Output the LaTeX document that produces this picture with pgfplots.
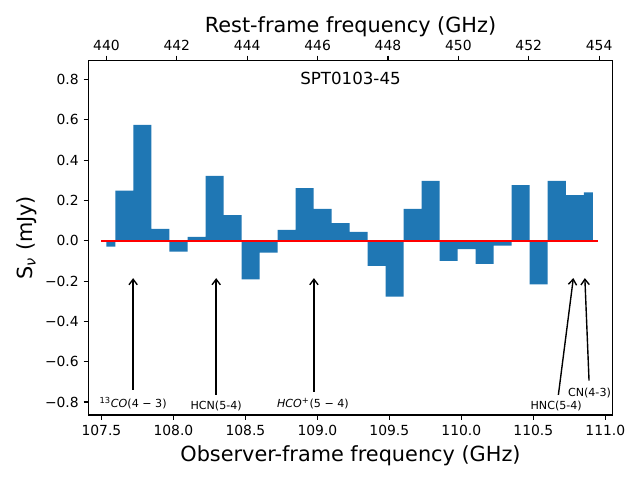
\documentclass[border=0pt]{standalone}
\usepackage{fontspec}
\setmainfont{DejaVu Sans}
\usepackage{pgfplots}
\pgfplotsset{compat=1.18}
\usetikzlibrary{arrows.meta}
\definecolor{c0}{HTML}{1F77B4}
\begin{document}
\begin{tikzpicture}
\path[use as bounding box] (0,0) rectangle (460.8pt,345.6pt);
% top axis: rest-frame frequency
\begin{axis}[
  at={(63.72pt,46.8pt)}, anchor=south west,
  scale only axis, width=377.28pt, height=255.24pt,
  xmin=439.49, xmax=454.38, ymin=0, ymax=1,
  axis x line*=top, axis y line=none,
  xtick={440,442,444,446,448,450,452,454},
  tick align=outside, major tick length=3.5pt,
  axis line style={line width=0.8pt, -},
  tick style={line width=0.8pt, black},
  ticklabel style={font=\fontsize{10}{12}\selectfont},
  /pgf/number format/assume math mode=true,
  xlabel={Rest-frame frequency (GHz)},
  xlabel style={font=\fontsize{15}{18}\selectfont, at={(axis description cs:0.5,1.096)}, anchor=center},
]
\end{axis}
\begin{axis}[
  at={(63.72pt,46.8pt)}, anchor=south west,
  scale only axis, width=377.28pt, height=255.24pt,
  xmin=107.41, xmax=111.05, ymin=-0.8645, ymax=0.895,
  xtick={107.5,108,108.5,109,109.5,110,110.5,111},
  xticklabels={107.5,108.0,108.5,109.0,109.5,110.0,110.5,111.0},
  ytick={-0.8,-0.6,-0.4,-0.2,0,0.2,0.4,0.6,0.8},
  yticklabels={−0.8,−0.6,−0.4,−0.2,0.0,0.2,0.4,0.6,0.8},
  xtick pos=left, ytick pos=left,
  tick align=outside, major tick length=3.5pt,
  axis line style={line width=0.8pt},
  tick style={line width=0.8pt, black},
  ticklabel style={font=\fontsize{10}{12}\selectfont},
  xlabel={Observer-frame frequency (GHz)},
  xlabel style={font=\fontsize{15}{18}\selectfont, at={(axis description cs:0.5,-0.116)}, anchor=center},
  ylabel={S\textsubscript{\textit{ν}} (mJy)},
  ylabel style={font=\fontsize{15}{18}\selectfont, at={(axis description cs:-0.1174,0.5)}, anchor=center},
  clip=true,
]
\addplot[fill=c0, draw=none, const plot mark mid] coordinates {
(107.535,-0.029) (107.660,0.249) (107.785,0.575) (107.910,0.059)
(108.035,-0.054) (108.161,0.020) (108.286,0.322) (108.411,0.128)
(108.536,-0.191) (108.661,-0.059) (108.786,0.054) (108.911,0.262)
(109.036,0.158) (109.161,0.088) (109.286,0.044) (109.412,-0.124)
(109.537,-0.277) (109.662,0.158) (109.787,0.297) (109.912,-0.099)
(110.037,-0.041) (110.162,-0.114) (110.287,-0.024) (110.412,0.277)
(110.537,-0.216) (110.663,0.297) (110.788,0.227) (110.913,0.241)
} \closedcycle;
\addplot[red, line width=1.5pt] coordinates {(107.5,0) (110.95,0)};
\draw[line width=1pt, -{Straight Barb[length=4pt,width=6pt]}] (axis cs:107.720,-0.740) -- (axis cs:107.720,-0.185);
\draw[line width=1pt, -{Straight Barb[length=4pt,width=6pt]}] (axis cs:108.297,-0.765) -- (axis cs:108.297,-0.185);
\draw[line width=1pt, -{Straight Barb[length=4pt,width=6pt]}] (axis cs:108.976,-0.749) -- (axis cs:108.976,-0.185);
\draw[line width=1pt, -{Straight Barb[length=4pt,width=6pt]}] (axis cs:110.674,-0.765) -- (axis cs:110.778,-0.185);
\draw[line width=1pt, -{Straight Barb[length=4pt,width=6pt]}] (axis cs:110.887,-0.694) -- (axis cs:110.858,-0.185);
\node[font=\fontsize{8}{9.6}\selectfont, inner sep=0pt] at (axis cs:107.72,-0.805) {\textsuperscript{13}\textit{CO}(4 − 3)};
\node[font=\fontsize{8}{9.6}\selectfont, inner sep=0pt] at (axis cs:108.297,-0.818) {HCN(5-4)};
\node[font=\fontsize{8}{9.6}\selectfont, inner sep=0pt] at (axis cs:108.969,-0.806) {\textit{HCO}\textsuperscript{+}(5 − 4)};
\node[font=\fontsize{8}{9.6}\selectfont, inner sep=0pt] at (axis cs:110.659,-0.818) {HNC(5-4)};
\node[font=\fontsize{8}{9.6}\selectfont, inner sep=0pt] at (axis cs:110.890,-0.754) {CN(4-3)};
\node[font=\fontsize{12}{14.4}\selectfont] at (rel axis cs:0.5,0.948) {SPT0103-45};
\end{axis}
\end{tikzpicture}
\end{document}
